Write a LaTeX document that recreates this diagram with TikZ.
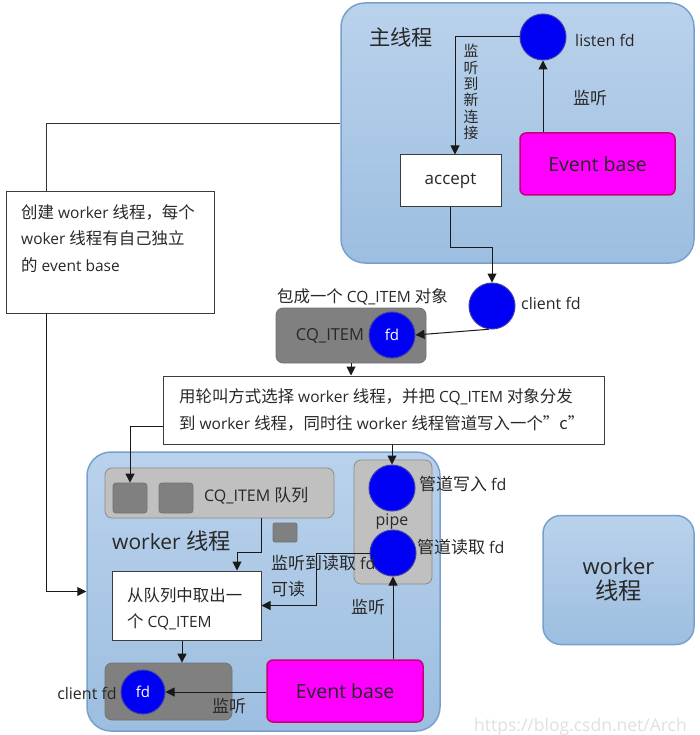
\documentclass[tikz,border=0pt]{standalone}
\usepackage{fontspec}
\setmainfont{Open Sans}
\newfontfamily\cjkf{Noto Sans CJK SC}[Scale=1.06]
\newcommand\zhs[1]{{\cjkf #1}}
\usetikzlibrary{arrows.meta}
\definecolor{thtop}{RGB}{186,210,236}
\definecolor{thbot}{RGB}{156,190,224}
\definecolor{thborder}{RGB}{120,160,205}
\definecolor{fdblue}{RGB}{0,0,245}
\definecolor{fdborder}{RGB}{60,60,170}
\definecolor{evfill}{RGB}{255,0,255}
\definecolor{evborder}{RGB}{200,0,120}
\definecolor{darkg}{RGB}{128,128,128}
\definecolor{lightg}{RGB}{192,192,192}
\definecolor{lineg}{RGB}{60,60,60}
\definecolor{txt}{RGB}{40,40,40}
\tikzset{
  thread/.style={rounded corners=24pt, draw=thborder, line width=1.5pt, top color=thtop, bottom color=thbot, inner sep=0pt, text=txt},
  fdcirc/.style={circle, fill=fdblue, draw=fdborder, line width=1pt, minimum size=46pt, inner sep=0pt, text=white, font=\fontsize{15}{18}\selectfont},
  evbox/.style={rounded corners=6pt, fill=evfill, draw=evborder, line width=1.5pt, font=\fontsize{19.5}{22}\selectfont, inner sep=0pt, text=black!85},
  wbox/.style={draw=lineg, fill=white, line width=1pt, inner sep=0pt, text=txt},
  dbox/.style={rounded corners=7pt, fill=darkg, draw=black!55, line width=0.8pt, inner sep=0pt},
  lbox/.style={rounded corners=7pt, fill=lightg, draw=black!45, line width=0.8pt, inner sep=0pt},
  sq/.style={rounded corners=3pt, fill=darkg, draw=black!55, line width=0.8pt, inner sep=0pt},
  conn/.style={draw=black!90, line width=1pt, -{Triangle[length=9pt,width=9pt]}},
  plain/.style={draw=black!80, line width=1pt},
  lbl/.style={inner sep=0pt, font=\fontsize{16}{19}\selectfont, text=txt},
  boxtxt/.style={inner sep=0pt, align=left, font=\fontsize{15.5}{26.5}\selectfont, text=txt},
}
\begin{document}
\begin{tikzpicture}[x=1pt,y=-1pt]
\useasboundingbox (0,0) rectangle (700,735);
\fill[white] (0,0) rectangle (700,735);
% threads
\node[thread, minimum width=353pt, minimum height=260pt] (main) at (517.5,133) {};
\node[thread, minimum width=353pt, minimum height=279pt] (worker) at (263.5,591.5) {};
\node[thread, rounded corners=18pt, minimum width=151pt, minimum height=129pt, align=center, font=\fontsize{22}{25}\selectfont] (worker2) at (618.5,580) {worker\\\zhs{线程}};
% main thread content
\node[lbl, font=\fontsize{20}{24}\selectfont] (mainlbl) at (401,37) {\zhs{主线程}};
\node[fdcirc] (listenfd) at (543,37) {};
\node[lbl, anchor=west] (listenlbl) at (575,40) {listen fd};
\node[wbox, minimum width=101pt, minimum height=52pt, font=\fontsize{17}{20}\selectfont] (accept) at (450.5,181) {accept};
\node[evbox, minimum width=155pt, minimum height=62pt] (ebtop) at (597.5,164) {Event base};
\node[lbl, align=center, font=\fontsize{14}{16.3}\selectfont] (newconn) at (471,92) {\zhs{监}\\\zhs{听}\\\zhs{到}\\\zhs{新}\\\zhs{连}\\\zhs{接}};
\node[lbl] (listen1) at (590,98) {\zhs{监听}};
% create box
\node[wbox, minimum width=208pt, minimum height=121pt] (create) at (110,252.5) {};
\node[boxtxt, anchor=north west] (createtxt) at (21,204) {\zhs{创建} worker \zhs{线程，每个}\\woker \zhs{线程有自己独立}\\\zhs{的} event base};
% client fd and CQ_ITEM
\node[fdcirc] (clientfd) at (492,306) {};
\node[lbl, anchor=west] (clientlbl) at (521,303) {client fd};
\node[lbl, anchor=west, font=\fontsize{15.5}{19}\selectfont] (wraplbl) at (277,297) {\zhs{包成一个} CQ\_ITEM \zhs{对象}};
\node[dbox, minimum width=150pt, minimum height=55pt] (cqitem) at (351,335.5) {};
\node[lbl, font=\fontsize{16.5}{19}\selectfont] (cqlbl) at (330,336) {CQ\_ITEM};
\node[fdcirc] (fd1) at (392,335) {fd};
% dispatch box
\node[wbox, minimum width=441pt, minimum height=68pt] (dispatch) at (383.5,410) {};
\node[boxtxt, anchor=west] (disptxt) at (179,410) {\zhs{用轮叫方式选择} worker \zhs{线程，并把} CQ\_ITEM \zhs{对象分发}\\\zhs{到} worker \zhs{线程，同时往} worker \zhs{线程管道写入一个”c”}};
% worker thread content
\node[lbox, minimum width=229pt, minimum height=50pt] (queue) at (219.5,493) {};
\node[sq, minimum width=34pt, minimum height=30pt] (sq1) at (130,498) {};
\node[sq, minimum width=34pt, minimum height=30pt] (sq2) at (176,498) {};
\node[lbl, anchor=west] (queuelbl) at (204,496) {CQ\_ITEM \zhs{队列}};
\node[sq, rounded corners=2pt, minimum width=24pt, minimum height=19pt] (sq3) at (285,532.5) {};
\node[lbl, anchor=west, font=\fontsize{21}{24}\selectfont] (workerlbl) at (112,541) {worker \zhs{线程}};
\node[wbox, minimum width=149pt, minimum height=69pt] (take) at (186.5,605.5) {};
\node[boxtxt, anchor=west] (taketxt) at (127,609) {\zhs{从队列中取出一}\\\zhs{个} CQ\_ITEM};
\node[lbox, minimum width=78pt, minimum height=124pt] (pipe) at (393,522) {};
\node[fdcirc] (pw) at (392,488) {};
\node[fdcirc] (pr) at (393,553) {};
\node[lbl] (pipelbl) at (392,522) {pipe};
\node[lbl, anchor=west] (pwlbl) at (419,484) {\zhs{管道写入} fd};
\node[lbl, anchor=west] (prlbl) at (417,547) {\zhs{管道读取} fd};
\node[lbl, anchor=west] (readlbl) at (271,563) {\zhs{监听到读取} fd};
\node[lbl, anchor=west] (readlbl2) at (271,589) {\zhs{可读}};
\node[lbl] (listen2) at (368,607) {\zhs{监听}};
\node[evbox, minimum width=156pt, minimum height=62pt] (ebbot) at (345,691) {Event base};
\node[dbox, minimum width=127pt, minimum height=57pt] (clientbox) at (168.5,691.5) {};
\node[fdcirc, minimum size=44pt] (fd2) at (143,692) {fd};
\node[lbl, anchor=east] (client2lbl) at (117,693) {client fd};
\node[lbl] (listen3) at (229,706) {\zhs{监听}};
% watermark
\node[inner sep=0pt, anchor=west, font=\fontsize{17.5}{20}\selectfont, text=black!12] (wm) at (474,727) {https://blog.csdn.net/Arch};
% connectors
\draw[conn] (listenfd.west) -| ([xshift=4.5pt]accept.north);
\draw[conn] (ebtop.north -| listenfd) -- (listenfd.south);
\draw[conn] (accept.south) -- ++(0,40) -| (clientfd.north);
\draw[conn] (clientfd.262) -- (fd1.east);
\draw[conn] (cqitem.south) -- (cqitem.south |- dispatch.north);
\draw[conn] ([yshift=-16pt]dispatch.west) -| (sq1.north);
\draw[conn] (dispatch.south -| pw) -- (pw.north);
\draw[conn] (queue.south -| take.east) -- ++(0,34) -| ([xshift=50.5pt]take.north);
\draw[conn] (pr.west) -- ++(-53,0) |- (take.east);
\draw[conn] (ebbot.north -| pr) -- (pr.south);
\draw[conn] (ebbot.west |- fd2) -- (fd2.east);
\draw[conn] ([xshift=-4.5pt]take.south) -- ([xshift=-4.5pt]take.south |- clientbox.north);
\draw[plain] ([yshift=9pt]main.west) -| ([xshift=-64pt]create.north);
\draw[conn] ([xshift=-64pt]create.south) |- (worker.west);
\end{tikzpicture}
\end{document}
